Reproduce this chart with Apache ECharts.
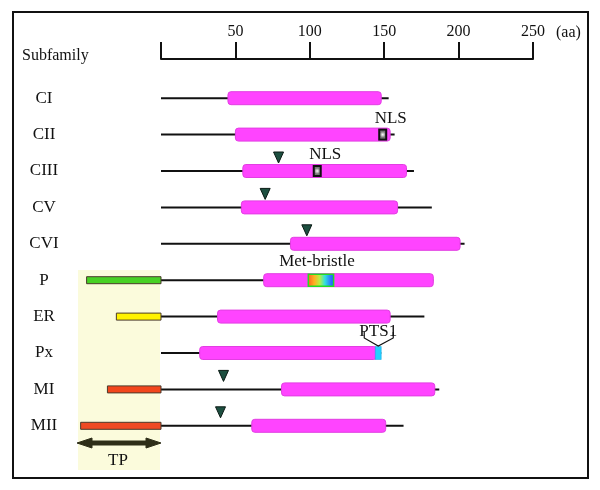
<!DOCTYPE html>
<html><head><meta charset="utf-8">
<script src="https://cdn.jsdelivr.net/npm/echarts@6/dist/echarts.min.js"></script>
<style>html,body{margin:0;padding:0;background:#fff}#c{width:600px;height:490px}</style>
</head><body><div id="c"></div>
<script>
// ---- data (amino-acid positions) ----
var categories = ['CI','CII','CIII','CV','CVI','P','ER','Px','MI','MII'];
var lineEnd     = [153, 157, 170, 182, 204, 183, 177, 148, 187, 163];
var domainStart = [45, 50, 55, 54, 87, 69, 38, 26, 81, 61];
var domainEnd   = [148, 154, 165, 159, 201, 183, 154, 145, 184, 151];
var tpStart     = [null, null, null, null, null, -50, -30, null, -36, -54];
var tpColor     = [null, null, null, null, null, '#47d124', '#fff200', null, '#f2461c', '#ef4a24'];
var trianglePos = [null, null, 79, 70, 98, null, null, null, 42, 40];
var nlsPos      = [null, 149, 105, null, null, null, null, null, null, null];
var metBristle  = [99, 116];   // on P
var pts1        = [144, 148];  // on Px
var axisTicks   = [0, 50, 100, 150, 200, 250];

var FONT = "'Liberation Serif','Times New Roman',serif";
var chart = echarts.init(document.getElementById('c'));

function renderRow(params, api) {
  var i = api.value(0);
  var y = api.coord([0, i])[1];
  var X = function (v) { return api.coord([v, i])[0]; };
  var kids = [];
  // backbone line
  kids.push({type:'line', shape:{x1:X(0), y1:y, x2:X(lineEnd[i]), y2:y},
    style:{stroke:'#111', lineWidth:2}});
  // transit peptide box
  if (tpStart[i] !== null) {
    kids.push({type:'rect', shape:{x:X(tpStart[i]), y:y-3.5, width:X(0)-X(tpStart[i]), height:7},
      style:{fill:tpColor[i], stroke:'#4a3a2a', lineWidth:1}});
  }
  // domain
  kids.push({type:'rect', shape:{x:X(domainStart[i]), y:y-6.5, width:X(domainEnd[i])-X(domainStart[i]), height:13, r:3},
    style:{fill:'#ff44ff', stroke:'#e23ee2', lineWidth:1}});
  // triangle
  if (trianglePos[i] !== null) {
    var tx = X(trianglePos[i]);
    kids.push({type:'polygon', shape:{points:[[tx-5,y-19],[tx+5,y-19],[tx,y-8]]},
      style:{fill:'#1d4f40', stroke:'#0a1a14', lineWidth:1}});
  }
  // NLS
  if (nlsPos[i] !== null) {
    var nx = X(nlsPos[i]);
    kids.push({type:'rect', shape:{x:nx-4.5, y:y-6, width:9, height:12},
      style:{fill:'#111'}});
    kids.push({type:'rect', shape:{x:nx-2.5, y:y-4, width:5, height:8},
      style:{fill:{type:'radial', x:0.5, y:0.5, r:0.6, colorStops:[{offset:0,color:'#ffffff'},{offset:1,color:'#777777'}]}}});
    kids.push({type:'text', style:{text:'NLS', x:nx+8, y:y-16, align:'center', verticalAlign:'middle',
      font:'17px '+FONT, fill:'#111'}});
  }
  // Met-bristle
  if (categories[i] === 'P') {
    var m1 = X(metBristle[0]), m2 = X(metBristle[1]);
    kids.push({type:'rect', shape:{x:m1, y:y-6, width:m2-m1, height:12},
      style:{fill:{type:'linear', x:0, y:0, x2:1, y2:0, colorStops:[
        {offset:0,color:'#ff5a1e'},{offset:0.25,color:'#ffb020'},{offset:0.45,color:'#b8f040'},
        {offset:0.65,color:'#30e0e0'},{offset:0.85,color:'#2a7cff'},{offset:1,color:'#2050ff'}]},
        stroke:'#22dd22', lineWidth:1.5}});
    kids.push({type:'text', style:{text:'Met-bristle', x:(m1+m2)/2-4, y:y-19, align:'center', verticalAlign:'middle',
      font:'17px '+FONT, fill:'#111'}});
  }
  // PTS1
  if (categories[i] === 'Px') {
    var p1 = X(pts1[0]), p2 = X(pts1[1]), cx = (p1+p2)/2;
    kids.push({type:'rect', shape:{x:p1, y:y-6.5, width:p2-p1, height:13},
      style:{fill:'#22d0ff', stroke:'#10a0e0', lineWidth:0.5}});
    kids.push({type:'polyline', shape:{points:[[cx-14,y-21],[cx-14,y-15],[cx,y-7],[cx+15,y-15],[cx+15,y-21]]},
      style:{stroke:'#111', lineWidth:1.2, fill:null}});
    kids.push({type:'text', style:{text:'PTS1', x:cx, y:y-21, align:'center', verticalAlign:'middle',
      font:'17px '+FONT, fill:'#111'}});
  }
  return {type:'group', children:kids};
}

var rowData = categories.map(function (c, i) { return [i]; });

chart.setOption({
  animation: false,
  grid: {left: 161, right: 67, top: 80, bottom: 46},
  xAxis: {
    type: 'value', min: 0, max: 250, interval: 50, position: 'top', offset: 21,
    axisLine: {show: true, lineStyle: {color: '#111', width: 2}},
    axisTick: {show: true, length: 17, lineStyle: {color: '#111', width: 2}},
    axisLabel: {show: true, margin: 19, color: '#111', fontSize: 16, fontFamily: FONT,
      formatter: function (v) { return v === 0 ? '' : String(v); }},
    splitLine: {show: false}
  },
  yAxis: {
    type: 'category', data: categories, inverse: true,
    axisLine: {show: false}, axisTick: {show: false},
    axisLabel: {margin: 117, align: 'center', color: '#111', fontSize: 17, fontFamily: FONT},
    splitLine: {show: false}
  },
  graphic: [
    {type:'rect', z:-10, shape:{x:78, y:270, width:82, height:200}, style:{fill:'#fbfbdc'}},
    {type:'rect', shape:{x:13, y:12, width:575, height:466}, style:{fill:null, stroke:'#111', lineWidth:2}},
    {type:'text', style:{text:'Subfamily', x:22, y:56, verticalAlign:'middle', font:'16px '+FONT, fill:'#111'}},
    {type:'text', style:{text:'(aa)', x:556, y:33, verticalAlign:'middle', font:'16px '+FONT, fill:'#111'}},
    {type:'polygon', shape:{points:[[77,443],[92,438],[92,441],[146,441],[146,438],[161,443],[146,448],[146,445],[92,445],[92,448]]},
      style:{fill:'#2e2e18', stroke:'#2e2e18', lineWidth:1}},
    {type:'text', style:{text:'TP', x:118, y:461, align:'center', verticalAlign:'middle', font:'17px '+FONT, fill:'#111'}}
  ],
  series: [{
    type: 'custom', clip: false, renderItem: renderRow, data: rowData, z: 5
  }]
});
</script></body></html>
